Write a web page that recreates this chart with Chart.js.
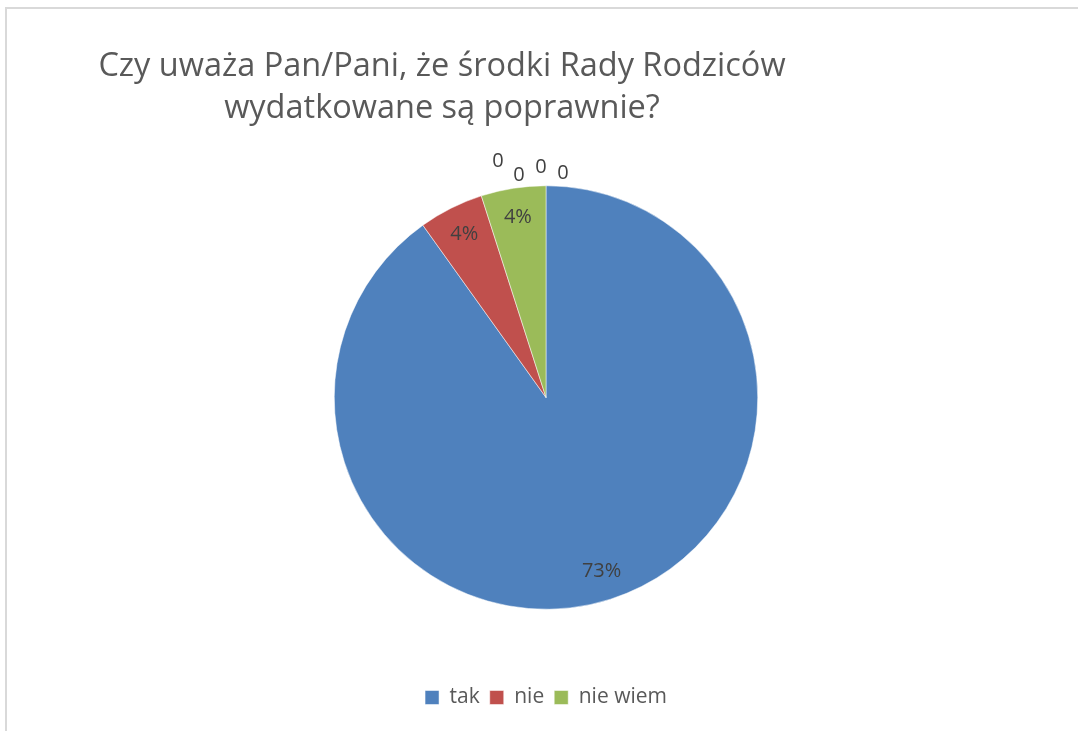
<!DOCTYPE html>
<html>
<head>
<meta charset="utf-8">
<script src="https://cdn.jsdelivr.net/npm/chart.js@4/dist/chart.umd.min.js"></script>
<style>
  html, body { margin: 0; padding: 0; background: #fff; overflow: hidden; }
  /* grey frame of the Excel chart area, only left and top edges are visible */
  #frame { position: absolute; left: 5px; top: 7px; width: 1200px; height: 800px;
           border-left: 2px solid #d9d9d9; border-top: 2px solid #d9d9d9; }
  #wrap { position: absolute; left: 0; top: 0; width: 1078px; height: 731px; }
</style>
</head>
<body>
<div id="frame"></div>
<div id="wrap"><canvas id="pie"></canvas></div>
<script>
// Data
const categories = ['tak', 'nie', 'nie wiem', '', '', '', ''];
const values = [73, 4, 4, 0, 0, 0, 0];
const colors = ['#4f81bd', '#c0504d', '#9bbb59', '#8064a2', '#4bacc6', '#f79646', '#2c4d75'];
const titleLines = ['Czy uważa Pan/Pani, że środki Rady Rodziców', 'wydatkowane są poprawnie?'];

const FONT = '"Open Sans", "Noto Sans", sans-serif';

// Title is off-centre in the original, so draw it ourselves
const titlePlugin = {
  id: 'excelTitle',
  beforeDraw(chart) {
    const ctx = chart.ctx;
    ctx.save();
    ctx.font = '32.5px ' + FONT;
    ctx.fillStyle = '#595959';
    ctx.textAlign = 'center';
    ctx.textBaseline = 'alphabetic';
    titleLines.forEach((t, i) => ctx.fillText(t, 442, 76 + i * 42));
    ctx.restore();
  }
};

// Data labels: percentages inside the slices, zeros staggered above the top edge
const zeroOffsets = [[-48, -24], [-27, -10], [-5, -18], [17, -12]];
const labelPlugin = {
  id: 'sliceLabels',
  afterDatasetsDraw(chart) {
    const ctx = chart.ctx;
    const meta = chart.getDatasetMeta(0);
    ctx.save();
    ctx.font = '20px ' + FONT;
    ctx.fillStyle = '#404040';
    ctx.textAlign = 'center';
    ctx.textBaseline = 'middle';
    let z = 0;
    meta.data.forEach((arc, i) => {
      const p = arc.getProps(['x', 'y', 'startAngle', 'endAngle', 'outerRadius'], true);
      const v = values[i];
      if (v > 0) {
        const mid = (p.startAngle + p.endAngle) / 2;
        const r = p.outerRadius * 0.86;
        ctx.fillText(v + '%', p.x + Math.cos(mid) * r, p.y + Math.sin(mid) * r);
      } else {
        const off = zeroOffsets[z % zeroOffsets.length];
        z++;
        const tx = p.x + Math.cos(p.startAngle) * p.outerRadius;
        const ty = p.y + Math.sin(p.startAngle) * p.outerRadius;
        ctx.fillText(String(v), tx + off[0], ty + off[1]);
      }
    });
    ctx.restore();
  }
};

new Chart(document.getElementById('pie'), {
  type: 'pie',
  data: {
    labels: categories,
    datasets: [{
      data: values,
      backgroundColor: colors,
      borderColor: '#ffffff',
      borderWidth: 0.5
    }]
  },
  options: {
    responsive: true,
    maintainAspectRatio: false,
    animation: false,
    layout: {
      padding: { left: 334, right: 320, top: 118, bottom: 13 }
    },
    plugins: {
      title: { display: false },
      tooltip: { enabled: false },
      legend: {
        position: 'bottom',
        labels: {
          color: '#595959',
          font: { size: 21, family: FONT },
          boxWidth: 14,
          boxHeight: 14,
          padding: 10,
          filter: item => item.text !== ''
        }
      }
    }
  },
  plugins: [titlePlugin, labelPlugin]
});
</script>
</body>
</html>
